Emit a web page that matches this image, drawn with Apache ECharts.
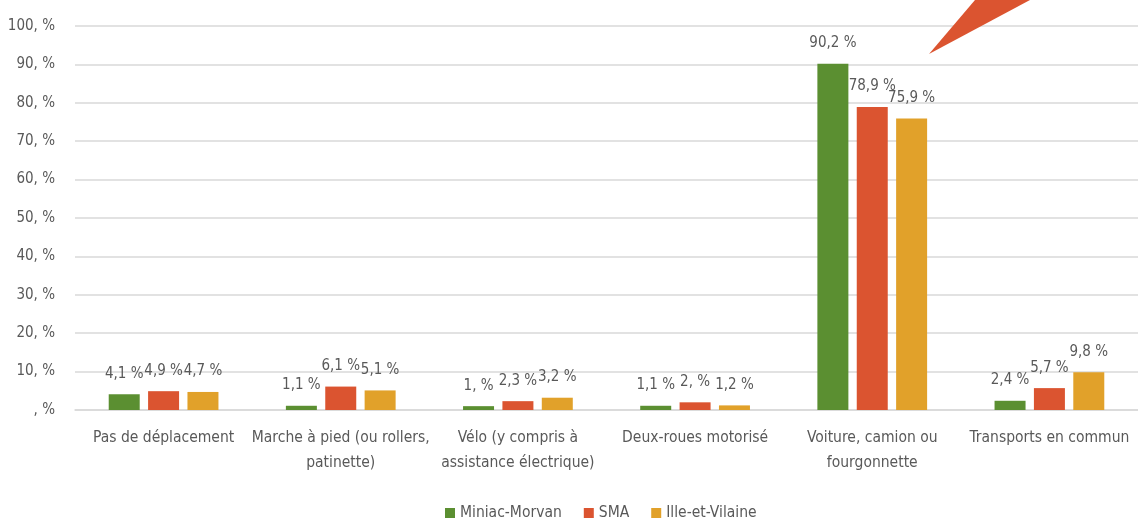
<!DOCTYPE html>
<html>
<head>
<meta charset="utf-8">
<title>Modes de déplacement</title>
<script src="https://cdn.jsdelivr.net/npm/echarts@6/dist/echarts.min.js"></script>
<style>
  html, body { margin: 0; padding: 0; background: #fff; }
  #chart { width: 1138px; height: 519px; }
</style>
</head>
<body>
<div id="chart"></div>
<script>
// Modes de déplacement (part en %)
const categories = [
  'Pas de déplacement',
  'Marche à pied (ou rollers,\npatinette)',
  'Vélo (y compris à\nassistance électrique)',
  'Deux-roues motorisé',
  'Voiture, camion ou\nfourgonnette',
  'Transports en commun'
];
const seriesNames = ['Miniac-Morvan', 'SMA', 'Ille-et-Vilaine'];
const miniacMorvan = [4.1, 1.1, 1.0, 1.1, 90.2, 2.4];
const sma = [4.9, 6.1, 2.3, 2.0, 78.9, 5.7];
const illeEtVilaine = [4.7, 5.1, 3.2, 1.2, 75.9, 9.8];
const yTicks = [0, 10, 20, 30, 40, 50, 60, 70, 80, 90, 100];

const colors = ['#5B8F31', '#DB5430', '#E1A12A'];
const FONT = "'Liberation Sans Narrow', 'DejaVu Sans Condensed', 'Roboto', sans-serif";
const TEXT = '#595959';

// French-style number: "4,1 %", integers keep the comma: "1, %"
function frPct(v) {
  if (Number.isInteger(v)) return v === 0 ? ', %' : v + ', %';
  return String(v).replace('.', ',') + ' %';
}

const values = [miniacMorvan, sma, illeEtVilaine];
const chart = echarts.init(document.getElementById('chart'));
chart.setOption({
  animation: false,
  textStyle: { fontFamily: FONT },
  color: colors,
  grid: { left: 75, right: -11, top: 26, bottom: 109, containLabel: false },
  legend: {
    top: 500,
    left: 440,
    itemWidth: 10,
    itemHeight: 10,
    itemGap: 22,
    icon: 'rect',
    textStyle: { color: TEXT, fontSize: 15.5, fontFamily: FONT },
    data: seriesNames
  },
  xAxis: {
    type: 'category',
    data: categories,
    axisLine: { show: true, lineStyle: { color: '#d9d9d9', width: 1.5 } },
    axisTick: { show: false },
    axisLabel: { color: TEXT, fontSize: 15.5, lineHeight: 25, margin: 15, interval: 0, fontFamily: FONT }
  },
  yAxis: {
    type: 'value',
    min: yTicks[0],
    max: yTicks[yTicks.length - 1],
    interval: 10,
    axisLine: { show: false },
    axisTick: { show: false },
    splitLine: { lineStyle: { color: '#d9d9d9', width: 1.5 } },
    axisLabel: { color: TEXT, fontSize: 15, margin: 20, fontFamily: FONT, formatter: v => frPct(v) }
  },
  series: seriesNames.map((name, i) => ({
    name: name,
    type: 'bar',
    data: values[i],
    barWidth: 31,
    barGap: '27%',
    label: {
      show: true,
      position: 'top',
      distance: 13,
      color: TEXT,
      fontSize: 15,
      fontFamily: FONT,
      formatter: p => frPct(p.value)
    }
  })),
  graphic: [{
    type: 'polygon',
    shape: { points: [[929, 54], [975, 0], [1030, 0]] },
    style: { fill: '#DB5430' },
    z: 100
  }]
});
</script>
</body>
</html>
